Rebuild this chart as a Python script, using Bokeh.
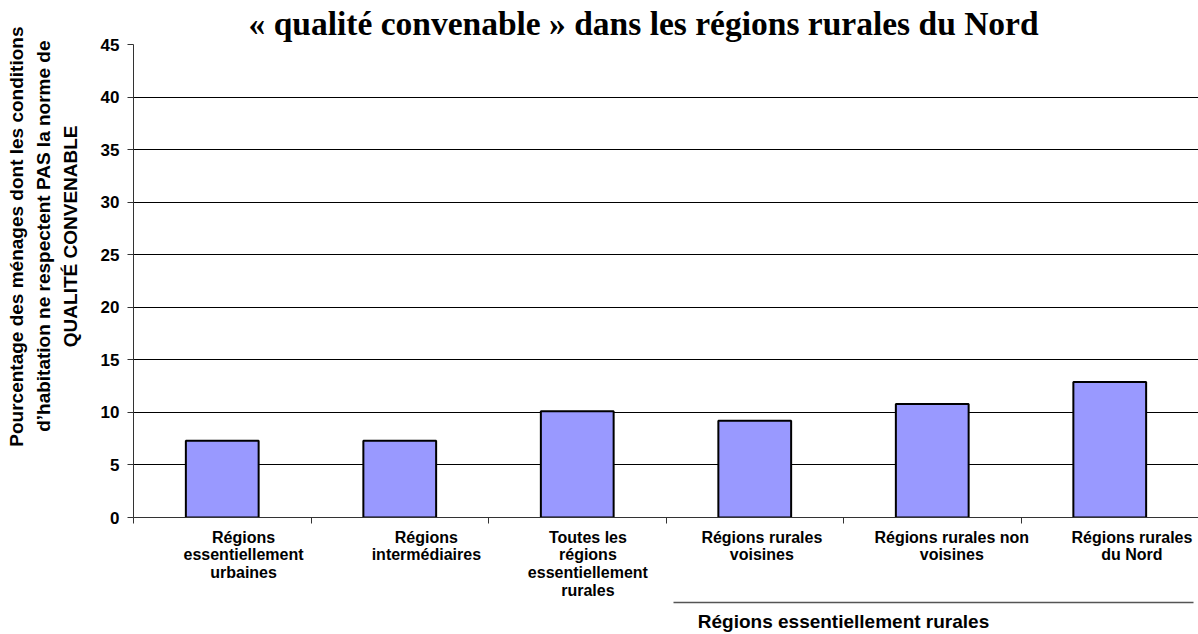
from bokeh.plotting import figure
from bokeh.models import Range1d, FixedTicker, LinearAxis, Title
from bokeh.embed import file_html
from bokeh.resources import INLINE

# ---- data ----
categories = [
    "Régions\nessentiellement\nurbaines",
    "Régions\nintermédiaires",
    "Toutes les\nrégions\nessentiellement\nrurales",
    "Régions rurales\nvoisines",
    "Régions rurales non\nvoisines",
    "Régions rurales\ndu Nord",
]
values = [7.3, 7.3, 10.1, 9.2, 10.8, 12.9]
y_ticks = [0, 5, 10, 15, 20, 25, 30, 35, 40, 45]
title_text = "« qualité convenable » dans les régions rurales du Nord"
y_label_lines = [
    "Pourcentage des ménages dont les conditions",
    "d’habitation ne respectent PAS la norme de",
    "QUALITÉ CONVENABLE",
]
group_label = "Régions essentiellement rurales"
group_span = (3, 6)  # categories 4..6 belong to the group

# ---- layout / style (not data) ----
label_shift = [0.12, 0.15, 0.06, 0.04, 0.11, 0.125]   # label offset from bar centre
group_label_pos = 4.0
y_label_offsets = [-18, -4, 81]      # px from the top of the frame (text end)
y_label_standoff = 4
y_title_gap = 15

n = len(categories)
centers = [i + 0.5 for i in range(n)]
label_pos = [c + s for c, s in zip(centers, label_shift)]
edges = list(range(n + 1))

p = figure(width=1198, height=634, output_backend="svg", toolbar_location=None,
           x_range=Range1d(0, n), y_range=Range1d(0, 45),
           x_axis_location=None, y_axis_location=None)
p.min_border_left = 133
p.min_border_right = 0
p.min_border_top = 44
p.min_border_bottom = 117
p.outline_line_color = None

p.vbar(x=centers, top=values, width=0.41, fill_color="#9999FF",
       line_color="black", line_width=2)

p.title.text = title_text
p.title.text_font = "Liberation Serif"
p.title.text_font_style = "bold"
p.title.text_font_size = "33.5px"
p.title.text_color = "black"
p.title.align = "left"
p.title.offset = 115
p.title.standoff = 5

yax = LinearAxis(ticker=FixedTicker(ticks=y_ticks))
yax.major_tick_out = 6
yax.major_tick_in = 0
yax.minor_tick_line_color = None
yax.axis_line_color = "#333333"
yax.major_tick_line_color = "#333333"
yax.major_label_text_font = "Liberation Sans"
yax.major_label_text_font_style = "bold"
yax.major_label_text_font_size = "17px"
yax.major_label_text_color = "black"
yax.major_label_standoff = 8
p.add_layout(yax, "left")

# blank axis used only as a gap between tick labels and the y title
gap = LinearAxis(ticker=FixedTicker(ticks=[y_ticks[-1]]))
gap.axis_line_color = None
gap.major_tick_line_color = "white"
gap.minor_tick_line_color = None
gap.major_tick_in = 0
gap.major_tick_out = y_title_gap
gap.minor_tick_in = 0
gap.minor_tick_out = 0
gap.major_label_text_color = None
gap.major_label_standoff = 0
p.add_layout(gap, "left")

# rotated y title: one Title per line, innermost line first
for k in (2, 1, 0):
    p.add_layout(Title(text=y_label_lines[k], align="right",
                       offset=y_label_offsets[k], standoff=y_label_standoff,
                       text_font="Liberation Sans", text_font_style="bold",
                       text_font_size="19px", text_color="black"), "left")

# x axis: labels near category centres, ticks between categories
xax = LinearAxis(ticker=FixedTicker(ticks=label_pos, minor_ticks=edges))
xax.major_label_overrides = {pos: t for pos, t in zip(label_pos, categories)}
xax.major_tick_line_color = None
xax.major_tick_out = 0
xax.minor_tick_out = 6
xax.minor_tick_in = 0
xax.minor_tick_line_color = "#333333"
xax.axis_line_color = "#333333"
xax.major_label_text_font = "Liberation Sans"
xax.major_label_text_font_style = "bold"
xax.major_label_text_font_size = "16px"
xax.major_label_text_color = "black"
xax.major_label_text_line_height = 1.05
xax.major_label_standoff = 5
p.add_layout(xax, "below")

# group line with its label
gax = LinearAxis(ticker=FixedTicker(ticks=[group_label_pos]),
                 bounds=(group_span[0] + 0.04, group_span[1] - 0.03))
gax.major_label_overrides = {group_label_pos: group_label}
gax.axis_line_color = "#555555"
gax.axis_line_width = 1.5
gax.major_tick_line_color = None
gax.major_tick_out = 0
gax.minor_tick_line_color = None
gax.major_label_text_font = "Liberation Sans"
gax.major_label_text_font_style = "bold"
gax.major_label_text_font_size = "19px"
gax.major_label_text_color = "black"
gax.major_label_standoff = 8
p.add_layout(gax, "below")

p.xgrid.grid_line_color = None
p.ygrid.ticker = FixedTicker(ticks=y_ticks)
p.ygrid.grid_line_color = "black"
p.ygrid.grid_line_width = 1

open("out.html", "w").write(file_html(p, INLINE))
